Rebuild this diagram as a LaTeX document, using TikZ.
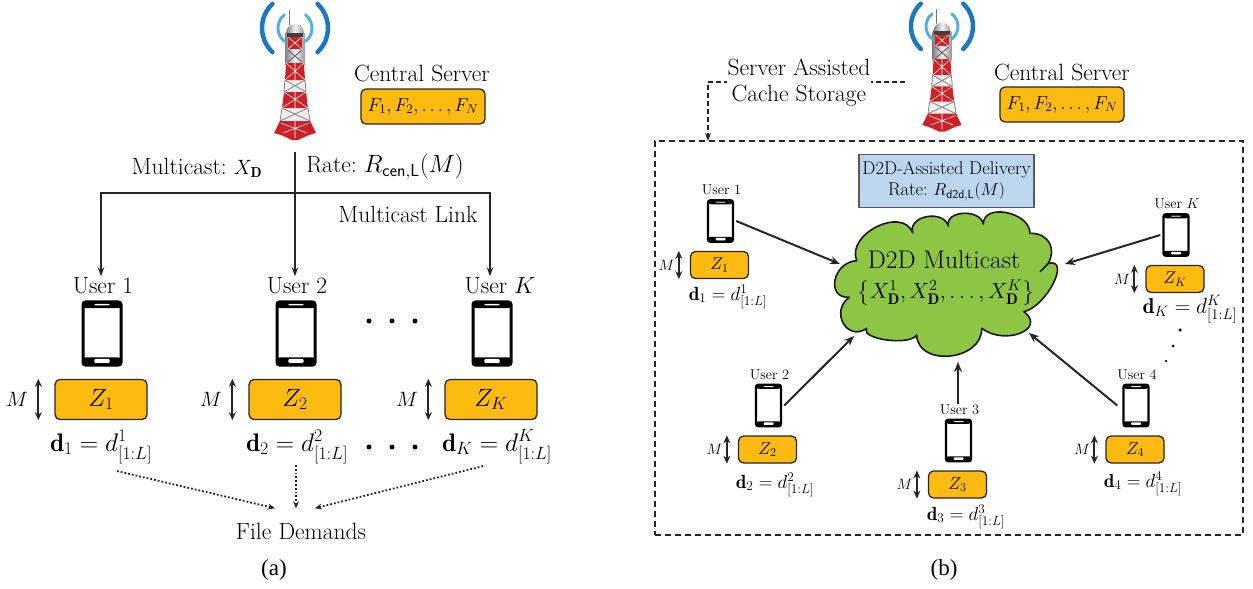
\documentclass[tikz,border=0pt]{standalone}
\usepackage{fix-cm}
\usepackage{amsmath}
\usepackage{fontspec}
\newfontfamily\capfont{Liberation Serif}
\usetikzlibrary{arrows.meta}

\definecolor{cacheyellow}{RGB}{253,187,18}
\definecolor{cloudgreen}{RGB}{140,198,68}
\definecolor{rateblue}{RGB}{187,214,238}
\definecolor{towerred}{RGB}{208,32,38}
\definecolor{waveblue}{RGB}{30,120,190}
\definecolor{wavelight}{RGB}{85,175,225}

\newcommand*\bigfont{\fontsize{23.5}{26}\selectfont}
\newcommand*\mathbigfont{\fontsize{20.7}{25}\selectfont}
\newcommand*\ratefont{\fontsize{25}{28}\selectfont}
\newcommand*\smallratefont{\fontsize{17.3}{21}\selectfont}
\newcommand*\demandfont{\fontsize{25.4}{28}\selectfont}
\newcommand*\zfont{\fontsize{25}{30}\selectfont}
\newcommand*\filesfont{\fontsize{18.7}{24}\selectfont}
\newcommand*\midfont{\fontsize{18.5}{21}\selectfont}
\newcommand*\smallfont{\fontsize{14.3}{17}\selectfont}

\tikzset{
    cachebox/.style 2 args={
        draw=black!85,
        line width=1.3pt,
        rounded corners=5pt,
        fill=cacheyellow,
        minimum width=#1,
        minimum height=#2,
        inner sep=0pt
    },
    phonebox/.style 2 args={
        draw=black,
        rounded corners=2.5pt,
        line width=#1,
        fill=white,
        minimum width=#2,
        minimum height=1.66*#2,
        inner sep=0pt,
        path picture={
            \fill[black] (path picture bounding box.north west) rectangle
                ([yshift=-0.16*#2]path picture bounding box.north east);
            \fill[black] (path picture bounding box.south west) rectangle
                ([yshift=0.2*#2]path picture bounding box.south east);
            \fill[white, rounded corners=1pt] ([xshift=-0.2*#2,yshift=-0.05*#2]path picture bounding box.north)
                rectangle ([xshift=0.2*#2,yshift=-0.09*#2]path picture bounding box.north);
            \fill[white, rounded corners=1pt] ([xshift=-0.2*#2,yshift=0.05*#2]path picture bounding box.south)
                rectangle ([xshift=0.2*#2,yshift=0.16*#2]path picture bounding box.south);
        }
    },
    sizearrow/.style={{Stealth[length=8pt,width=7pt]}-{Stealth[length=8pt,width=7pt]}, line width=1.9pt, black!85},
    linkarrow/.style={-{Stealth[length=9pt,width=6.5pt]}, line width=1.2pt, black!85},
    d2darrow/.style={-{Stealth[length=10pt,width=8pt]}, line width=2pt, black!85},
    demandarrow/.style={-{Stealth[length=7pt,width=6pt]}, line width=1.8pt, dash pattern=on 1.8pt off 2pt, black!85},
    dotmark/.style={circle, fill=black, inner sep=0pt, minimum size=#1},
    tower/.pic={
        % Mast head.
        \draw[black!55, line width=1pt] (-6,10) -- (-6,25) (5,25) -- (5,31);
        \shade[left color=black!50,right color=black!40,middle color=black!5] (-9,33) arc[start angle=180,end angle=0,radius=9pt] -- cycle;
        \shade[left color=black!50,right color=black!40,middle color=black!5] (-10,33) rectangle (10,64);
        \fill[black!75] (-8,33) rectangle (8,37);
        \fill[towerred] (-7,37) rectangle (7,49);
        \draw[white, line width=0.6pt] (-7,37) -- (7,49) (7,37) -- (-7,49);
        \draw[black!65, line width=0.8pt] (-7,50) -- (7,62) (7,50) -- (-7,62);
        % Waves on both sides of the mast.
        \foreach \radius/\lw/\col/\ang in {17/3pt/wavelight/52,33/4.5pt/waveblue/47}{
            \draw[\col, line width=\lw, line cap=round] (0,28) ++(180-\ang:\radius pt) arc[start angle=180-\ang,end angle=180+\ang,radius=\radius pt];
            \draw[\col, line width=\lw, line cap=round] (0,28) ++(\ang:\radius pt) arc[start angle=\ang,end angle=-\ang,radius=\radius pt];
        }
        % Lattice sections from top to bottom.
        \foreach \ya/\wa/\yb/\wb in {80/10/92/11,108/13/121/15}{
            \fill[black!6] (-\wa,\ya) -- (\wa,\ya) -- (\wb,\yb) -- (-\wb,\yb) -- cycle;
            \draw[black!50, line width=0.8pt] (-\wa,\ya) -- (\wb,\yb) (\wa,\ya) -- (-\wb,\yb)
                (-\wa,\ya) -- (-\wb,\yb) (\wa,\ya) -- (\wb,\yb);
        }
        \foreach \ya/\wa/\yb/\wb in {63/9/80/10,92/11/108/13}{
            \fill[towerred] (-\wa,\ya) -- (\wa,\ya) -- (\wb,\yb) -- (-\wb,\yb) -- cycle;
            \draw[white, line width=0.6pt] (-\wa,\ya) -- (\wb,\yb) (\wa,\ya) -- (-\wb,\yb) (0,\ya) -- (0,\yb);
        }
        % Red base.
        \fill[towerred] (-15,121) -- (15,121) -- (21,133) -- (14,135) -- (3,140) -- (-3,140) -- (-14,135) -- (-21,133) -- cycle;
        \draw[white, line width=0.6pt] (-14,123) -- (12,133) (14,123) -- (-12,133) (0,121) -- (0,138);
    }
}

\begin{document}
\begin{tikzpicture}[y=-1pt,x=1pt]
    \useasboundingbox (0,0) rectangle (1253,589);

    % Left part: central server.
    \pic at (295,0) {tower};
    \node[font=\bigfont] (aserver) at (422,73) {Central Server};
    \node[cachebox={124pt}{35pt}, font=\filesfont] (afiles) at (423,106.5) {$F_1,F_2,\dots,F_N$};
    \node[font=\bigfont] (amulticast) at (197,168) {Multicast:\ {\mathbigfont$X_{\mathbf{D}}$}};
    \node[font=\bigfont] (arate) at (385,167) {Rate:\ {\ratefont$R_{\mathsf{cen,L}}(M)$}};
    \node[font=\bigfont] (alink) at (408,214) {Multicast Link};

    % Users of the left part.
    \foreach \id/\posx/\userx/\demx/\who in {1/102/103/101/1,2/296/297/297/2,K/492/500/497/$K$}{
        \node[font=\bigfont] (auser\id) at (\userx,286) {User \who};
        \node[phonebox={3pt}{38pt}] (aphone\id) at (\posx,333.5) {};
        \node[cachebox={92pt}{40pt}, font=\zfont] (azbox\id) at (\posx-1,399.5) {$Z_{\id}$};
        \node[font=\mathbigfont] (amem\id) at (\posx-85,399) {$M$};
        \node[font=\demandfont, anchor=base] (ademand\id) at (\demx,451) {$\mathbf{d}_{\id}=d^{\id}_{[1:L]}$};
        \draw[sizearrow] ([xshift=-16pt]azbox\id.north west) -- ([xshift=-16pt]azbox\id.south west);
    }

    % Multicast link to the users.
    \coordinate (atop) at (295,152);
    \coordinate (ajoin) at (295,193);
    \draw[line width=1.2pt, black!85] (atop) -- (ajoin);
    \draw[linkarrow] (ajoin) -| ([xshift=-2pt,yshift=-2pt]auser1.north);
    \draw[linkarrow] (ajoin) -- ([xshift=-2pt,yshift=-2pt]auser2.north);
    \draw[linkarrow] (ajoin) -| ([xshift=-10pt,yshift=-2pt]auserK.north);

    % Dots between the users.
    \foreach \posx [count=\i] in {369,392,415}{
        \node[dotmark=5pt] (adot\i) at (\posx,321) {};
        \node[dotmark=5pt] (bdot\i) at (\posx,447) {};
    }

    % File demands.
    \node[font=\bigfont] (afile) at (301,531) {File Demands};
    \draw[demandarrow] ([xshift=16pt,yshift=-4pt]ademand1.south) -- ([xshift=-26pt,yshift=11pt]afile.north);
    \draw[demandarrow] ([xshift=-1pt,yshift=2pt]ademand2.south) -- ([xshift=-5pt,yshift=11pt]afile.north);
    \draw[demandarrow] ([xshift=-14pt,yshift=1pt]ademandK.south) -- ([xshift=14pt,yshift=11pt]afile.north);

    % Right part: server and dashed region.
    \pic[scale=0.94] at (942,0) {tower};
    \node[font=\bigfont] (bserver) at (1062,72) {Central Server};
    \node[cachebox={124pt}{35pt}, font=\filesfont] (bfiles) at (1062,104.5) {$F_1,F_2,\dots,F_N$};
    \node[draw=black!85, line width=1.4pt, dash pattern=on 6pt off 4pt, minimum width=588pt, minimum height=394pt] (bregion) at (949,338) {};
    \coordinate (bstore) at (905,82);
    \coordinate (bentry) at (708,141);
    \draw[-{Stealth[length=8pt,width=6pt]}, line width=1.2pt, dash pattern=on 5pt off 3pt, black!85] (bstore) -| (bentry);
    \node[font=\bigfont, fill=white, align=center, inner sep=1pt] (bcache) at (799,83) {Server Assisted\\Cache Storage};

    % Delivery rate and multicast cloud.
    \node[draw=black!65, line width=1.2pt, fill=rateblue, font=\midfont, align=center, minimum width=175pt, minimum height=53pt, inner sep=0pt] (brate) at (946.5,181)
        {D2D-Assisted Delivery\\Rate:\ {\smallratefont$R_{\mathsf{d2d,L}}(M)$}};
    \draw[black!90, line width=1.6pt, fill=cloudgreen, line join=round]
        (856.7,260.7) .. controls (846,234) and (902,206) .. (912.7,232.7)
        .. controls (907.7,215.8) and (943.3,209.1) .. (948.3,226)
        .. controls (945,210.4) and (980,208.4) .. (983.3,224)
        .. controls (983.3,202.7) and (1030,212) .. (1030,233.3)
        .. controls (1050,233) and (1056,250) .. (1048.3,263.3)
        .. controls (1071.2,257.7) and (1046.9,306.1) .. (1024,311.7)
        .. controls (1046.9,329.4) and (1004.6,346) .. (981.7,328.3)
        .. controls (982.7,360.8) and (917.7,367.5) .. (916.7,335)
        .. controls (910,346.1) and (860,339.4) .. (866.7,328.3)
        .. controls (847.1,342.3) and (829.7,311.3) .. (849.3,297.3)
        .. controls (825.3,298.6) and (832.7,262) .. (856.7,260.7) -- cycle;
    \draw[black!90, line width=1.6pt] (1048.3,263.3) -- (1040,271.7);
    \node[font=\fontsize{25.5}{28}\selectfont, inner sep=0pt] (bcloudtitle) at (944,260) {D2D Multicast};
    \node[font=\fontsize{22}{26}\selectfont, inner sep=0pt] (bcloudset) at (946,293) {$\bigl\{X^1_{\mathbf{D}},X^2_{\mathbf{D}},\dots,X^K_{\mathbf{D}}\bigr\}$};

    % Users of the right part.
    \foreach \id/\posx/\posy/\who in {1/720.5/221/1,2/768.5/405.5/2,3/958.5/440.5/3,4/1136/405.5/4,K/1176/235/$K$}{
        \node[font=\smallfont] (buser\id) at (\posx+1,\posy-31) {User \who};
        \node[phonebox={2.4pt}{25pt}] (bphone\id) at (\posx,\posy) {};
        \node[cachebox={58pt}{27pt}, font=\fontsize{17.3}{20}\selectfont] (bzbox\id) at (\posx-1,\posy+44) {$Z_{\id}$};
        \node[font=\fontsize{15}{18}\selectfont] (bmem\id) at (\posx-54,\posy+44) {$M$};
        \draw[sizearrow] ([xshift=-11pt]bzbox\id.north west) -- ([xshift=-11pt]bzbox\id.south west);
    }

    % Demands of the right part.
    \foreach \id/\posx/\posy in {1/728/300,2/775/488,3/966/520,4/1143/487}
        \node[font=\fontsize{19}{24}\selectfont, anchor=base] (bdemand\id) at (\posx,\posy) {$\mathbf{d}_{\id}=d^{\id}_{[1:L]}$};
    \node[font=\fontsize{21.5}{26}\selectfont, anchor=base] (bdemandK) at (1190,313) {$\mathbf{d}_{K}=d^{K}_{[1:L]}$};

    % Arrows into the cloud.
    \coordinate (bin1) at (840,264);
    \coordinate (binK) at (1065,264);
    \coordinate (bin2) at (854,336);
    \coordinate (bin3) at (958,362);
    \coordinate (bin4) at (1029,333);
    \draw[d2darrow] ([xshift=2pt]bphone1.east) -- (bin1);
    \draw[d2darrow] ([xshift=-2pt]bphoneK.west) -- (binK);
    \draw[d2darrow] ([xshift=2pt]bphone2.east) -- (bin2);
    \draw[d2darrow] ([xshift=-1.5pt,yshift=-3pt]buser3.north) -- (bin3);
    \draw[d2darrow] ([xshift=-5pt]bphone4.west) -- (bin4);

    % Dots between user 4 and user K.
    \node[dotmark=3.5pt] (cdot1) at (1180,330) {};
    \node[dotmark=3pt] (cdot2) at (1173,346) {};
    \node[dotmark=2.5pt] (cdot3) at (1166,361) {};

    % Captions.
    \node[font=\capfont\fontsize{23}{26}\selectfont] (acap) at (274,570) {(a)};
    \node[font=\capfont\fontsize{23}{26}\selectfont] (bcap) at (944,570) {(b)};
\end{tikzpicture}
\end{document}
